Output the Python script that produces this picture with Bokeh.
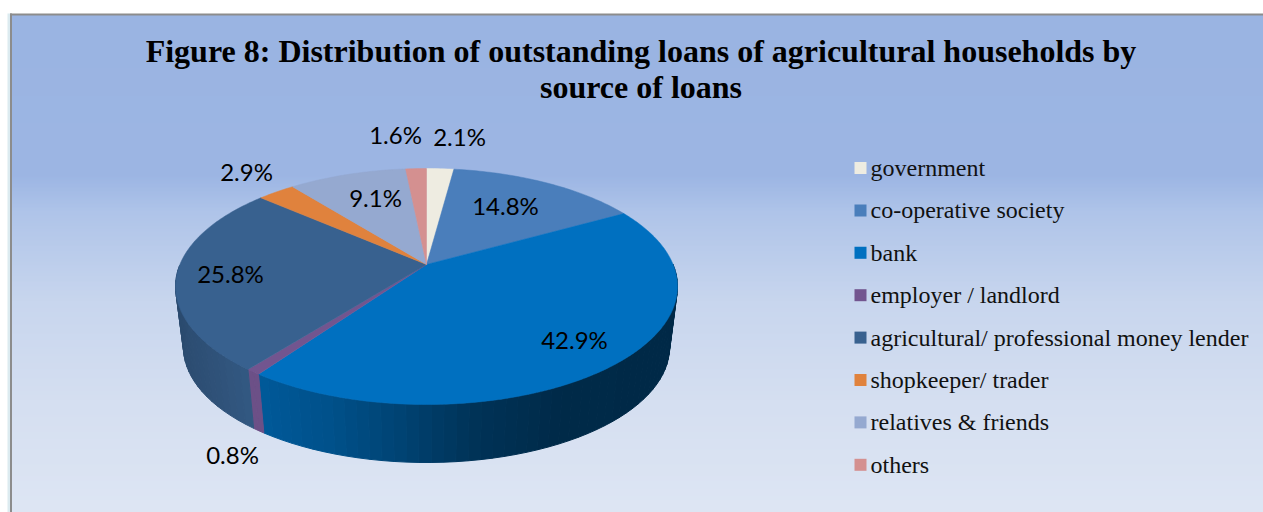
import numpy as np
from bokeh.core.properties import value
from bokeh.embed import file_html
from bokeh.models import Range1d
from bokeh.plotting import figure
from bokeh.resources import INLINE

# ---- data ----
categories = ["government", "co-operative society", "bank", "employer / landlord",
              "agricultural/ professional money lender", "shopkeeper/ trader",
              "relatives & friends", "others"]
shares = [2.1, 14.8, 42.9, 0.8, 25.8, 2.9, 9.1, 1.6]
labels = ["2.1%", "14.8%", "42.9%", "0.8%", "25.8%", "2.9%", "9.1%", "1.6%"]
colors = ["#EEECE1", "#4A7EBB", "#0070C0", "#72558F", "#38618F", "#E0823D", "#95A9D0", "#D49090"]

title_lines = ["Figure 8: Distribution of outstanding loans of agricultural households by",
               "source of loans"]

# ---- layout (in reference pixels) ----
label_x = [459, 505, 574, 232, 230, 246, 375, 395]
label_y = [136, 205, 339, 454, 273, 171, 197, 134]
CX, TOP_CY, TOP_RX, TOP_RY = 426, 286, 251, 118
BOT_CY, BOT_RX, BOT_RY = 347, 243, 115
APEX_SHIFT = 22 / 118

W, H = 1263, 512
p = figure(width=W, height=H, x_range=Range1d(0, W), y_range=Range1d(H, 0),
           output_backend="svg", toolbar_location=None, min_border=0, outline_line_color=None,
           background_fill_color="white", border_fill_color="white")
p.axis.visible = False
p.grid.visible = False

# background gradient
ys = np.arange(14, H + 1, 2)
bg_r = np.interp(ys, [14, 175, 210, 300, 400, 512], [154, 157, 175, 200, 213, 222])
bg_g = np.interp(ys, [14, 175, 210, 300, 400, 512], [180, 182, 196, 214, 223, 230])
bg_b = np.interp(ys, [14, 175, 210, 300, 400, 512], [226, 228, 233, 238, 241, 244])
bg = ["#%02x%02x%02x" % (int(r), int(g), int(b)) for r, g, b in zip(bg_r, bg_g, bg_b)]
p.quad(left=11, right=W, top=ys, bottom=ys + 2.5, fill_color=bg, line_color=None)
p.quad(left=7, right=10, top=13, bottom=H, fill_color="#dcebf0", line_color=None)
p.quad(left=9.5, right=11.5, top=13, bottom=H, fill_color="#8c8c8c", line_color=None)
p.quad(left=9.5, right=W, top=13, bottom=15, fill_color="#8c8c8c", line_color=None)


def project(frac):
    """Slice boundary (fraction of the full circle, clockwise from 12 o'clock) to perspective disc."""
    a = 2 * np.pi * np.asarray(frac)
    u, v = np.sin(a), np.cos(a)
    c = APEX_SHIFT
    d = 1 + c * v
    return u * np.sqrt(1 - c * c) / d, (v + c) / d


def shade(hexcol, f):
    r, g, b = (int(hexcol[i:i + 2], 16) for i in (1, 3, 5))
    return "#%02x%02x%02x" % (int(r * f), int(g * f), int(b * f))


cum = np.concatenate([[0], np.cumsum(shares)]) / 100.0

# side wall
sx, sy, sc = [], [], []
for i, col in enumerate(colors):
    n = max(2, int(shares[i] * 1.5))
    ts = np.linspace(cum[i], cum[i + 1], n + 1)
    us, vs = project(ts)
    for j in range(n):
        if vs[j] > 0.15 and vs[j + 1] > 0.15:
            continue
        x0, x1 = CX + TOP_RX * us[j], CX + TOP_RX * us[j + 1]
        y0, y1 = TOP_CY - TOP_RY * vs[j], TOP_CY - TOP_RY * vs[j + 1]
        x2, x3 = CX + BOT_RX * us[j + 1], CX + BOT_RX * us[j]
        y2, y3 = BOT_CY - BOT_RY * vs[j + 1], BOT_CY - BOT_RY * vs[j]
        sx.append([x0, x1, x2, x3])
        sy.append([y0, y1, y2, y3])
        xm = (x0 + x1) / 2
        if i == 2:
            f = np.interp(xm, [258, 330, 400, 470, 560, 680], [0.80, 0.72, 0.60, 0.46, 0.38, 0.37])
        elif i == 4:
            f = np.interp(xm, [175, 250], [0.78, 0.92])
        else:
            f = 0.95
        sc.append(shade(col, f))
p.patches(sx, sy, fill_color=sc, line_color=sc, line_width=1.0)

# top face
fx, fy = [], []
for i in range(len(shares)):
    n = max(3, int(shares[i] * 4))
    ts = np.linspace(cum[i], cum[i + 1], n + 1)
    us, vs = project(ts)
    fx.append([CX] + list(CX + TOP_RX * us))
    fy.append([TOP_CY - TOP_RY * APEX_SHIFT] + list(TOP_CY - TOP_RY * vs))
p.patches(fx, fy, fill_color=colors, line_color=colors, line_width=0.5)

# data labels
p.text(label_x, label_y, text=labels, text_font=value("Lato"), text_font_size="24px",
       text_color="black", text_align="center", text_baseline="middle")

# title
p.text([640.5, 640.5], [50, 86], text=title_lines, text_font=value("Liberation Serif"),
       text_font_size="32px", text_font_style="bold", text_color="black",
       text_align="center", text_baseline="middle")

# legend
leg_y = 167.5 + 42.4 * np.arange(len(categories))
p.quad(left=854, right=866, top=leg_y - 6, bottom=leg_y + 6, fill_color=colors, line_color=None)
p.text(870, leg_y, text=categories, text_font=value("Liberation Serif"), text_font_size="24px",
       text_color="#111111", text_align="left", text_baseline="middle")

open("out.html", "w").write(file_html(p, INLINE))
